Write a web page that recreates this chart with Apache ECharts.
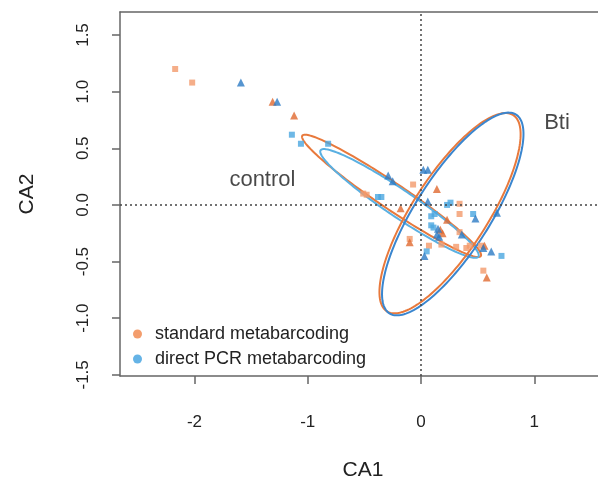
<!DOCTYPE html>
<html><head><meta charset="utf-8">
<script src="https://cdn.jsdelivr.net/npm/echarts@6/dist/echarts.min.js"></script>
<style>html,body{margin:0;padding:0;background:#fff}#c{width:598px;height:487px}</style>
</head><body><div id="c"></div>
<script>
// ---- data ----
const xTicks = [-2, -1, 0, 1];
const yTicks = [-1.5, -1.0, -0.5, 0.0, 0.5, 1.0, 1.5];
const seriesNames = ['standard metabarcoding', 'direct PCR metabarcoding'];

const stdSquares = [[-2.17,1.20],[-2.02,1.08],[-0.51,0.10],[-0.48,0.09],[-0.07,0.18],[0.34,0.01],[0.34,-0.08],[0.34,-0.24],[-0.10,-0.30],[0.07,-0.36],[0.18,-0.35],[0.31,-0.37],[0.40,-0.38],[0.43,-0.36],[0.53,-0.36],[0.55,-0.58]];
const stdTriangles = [[-1.31,0.91],[-1.12,0.79],[0.14,0.14],[-0.18,-0.03],[0.23,-0.13],[0.17,-0.22],[0.19,-0.25],[-0.10,-0.33],[0.56,-0.36],[0.58,-0.64]];
const dirSquares = [[-1.14,0.62],[-1.06,0.54],[-0.82,0.54],[-0.38,0.07],[-0.35,0.07],[0.23,0.00],[0.26,0.02],[0.09,-0.10],[0.12,-0.08],[0.46,-0.08],[0.09,-0.18],[0.11,-0.20],[0.71,-0.45],[0.05,-0.41]];
const dirTriangles = [[-1.59,1.08],[-1.27,0.91],[-0.29,0.26],[-0.25,0.21],[0.02,0.31],[0.06,0.31],[0.06,0.03],[0.48,-0.12],[0.67,-0.07],[0.15,-0.21],[0.14,-0.26],[0.16,-0.28],[0.36,-0.26],[0.55,-0.38],[0.62,-0.41],[0.03,-0.45]];

// ellipses: control std, control direct, Bti std, Bti direct
const ellCx = [-0.26, -0.19, 0.256, 0.28];
const ellCy = [0.08, 0.013, -0.073, -0.08];
const ellA = [0.95, 0.84, 1.03, 1.04];
const ellB = [0.115, 0.12, 0.33, 0.33];
const ellAngle = [-34, -34, 57.2, 57.5];

const annotText = ['control', 'Bti'];
const annotX = [-1.40, 1.20];
const annotY = [0.22, 0.72];

// ---- styles ----
const cOrangeSq = '#f39a6b', cOrangeTri = '#e0692f', cBlueSq = '#4aa6e0', cBlueTri = '#2c7bc4';
const ellColors = ['#e8793c', '#5ab0e2', '#e8793c', '#3a86cf'];
const FONT = '"Liberation Sans", Arial, sans-serif';

const ellData = ellCx.map((c, i) => [c, ellCy[i], ellA[i], ellB[i], ellAngle[i], i]);

function renderEllipse(params, api) {
  const cx = api.value(0), cy = api.value(1), a = api.value(2), b = api.value(3);
  const th = api.value(4) * Math.PI / 180, idx = api.value(5);
  const pts = [];
  for (let k = 0; k < 180; k++) {
    const t = k * 2 * Math.PI / 180;
    const ux = a * Math.cos(t), uy = b * Math.sin(t);
    pts.push(api.coord([cx + ux * Math.cos(th) - uy * Math.sin(th), cy + ux * Math.sin(th) + uy * Math.cos(th)]));
  }
  return { type: 'polygon', shape: { points: pts }, style: { fill: 'none', stroke: ellColors[idx], lineWidth: 2 } };
}

const chart = echarts.init(document.getElementById('c'));
chart.setOption({
  animation: false,
  backgroundColor: '#fff',
  textStyle: { fontFamily: FONT },
  grid: { left: 120, top: 12, right: 0, bottom: 111 },
  legend: {
    left: 128, top: 320, orient: 'vertical', itemGap: 7,
    itemWidth: 9, itemHeight: 9,
    textStyle: { fontSize: 18, color: '#222', fontFamily: FONT, padding: [0, 0, 0, 8], lineHeight: 18 },
    data: [
      { name: seriesNames[0], icon: 'circle', itemStyle: { color: '#f08549' } },
      { name: seriesNames[1], icon: 'circle', itemStyle: { color: '#3fa0e0' } }
    ]
  },
  xAxis: [{
    type: 'value', min: -2.657, max: 1.562, position: 'bottom',
    name: 'CA1', nameLocation: 'middle', nameGap: 84,
    nameTextStyle: { fontSize: 21, color: '#222', fontFamily: FONT, padding: [0, 0, 0, 8] },
    splitLine: { show: false },
    axisLine: { show: true, onZero: false, lineStyle: { color: '#666', width: 1.5 } },
    axisTick: { show: true, length: 8, customValues: xTicks, lineStyle: { color: '#666', width: 1.5 } },
    axisLabel: { customValues: xTicks, margin: 38, fontSize: 17, color: '#222', fontFamily: FONT }
  }, {
    type: 'value', min: -2.657, max: 1.562, position: 'top',
    splitLine: { show: false },
    axisLine: { show: true, onZero: false, lineStyle: { color: '#666', width: 1.5 } },
    axisTick: { show: false }, axisLabel: { show: false }
  }],
  yAxis: {
    type: 'value', min: -1.51, max: 1.703,
    name: 'CA2', nameLocation: 'middle', nameGap: 82,
    nameTextStyle: { fontSize: 21, color: '#222', fontFamily: FONT },
    splitLine: { show: false },
    axisLine: { show: true, onZero: false, lineStyle: { color: '#666', width: 1.5 } },
    axisTick: { show: true, length: 8, customValues: yTicks, lineStyle: { color: '#666', width: 1.5 } },
    axisLabel: { customValues: yTicks, rotate: 90, margin: 28, fontSize: 17, color: '#222', fontFamily: FONT,
      formatter: v => v.toFixed(1) }
  },
  series: [
    {
      type: 'custom', name: 'ellipses', renderItem: renderEllipse, data: ellData, silent: true, z: 3,
      encode: { x: 0, y: 1 },
      markLine: {
        silent: true, symbol: 'none', label: { show: false },
        lineStyle: { type: [2, 3], color: '#444', width: 1.5 },
        data: [{ xAxis: 0 }, { yAxis: 0 }]
      }
    },
    { type: 'scatter', name: seriesNames[0], symbol: 'rect', symbolSize: 6, data: stdSquares, itemStyle: { color: cOrangeSq }, z: 4 },
    { type: 'scatter', name: seriesNames[0], symbol: 'triangle', symbolSize: 8, data: stdTriangles, itemStyle: { color: cOrangeTri }, z: 4 },
    { type: 'scatter', name: seriesNames[1], symbol: 'rect', symbolSize: 6, data: dirSquares, itemStyle: { color: cBlueSq }, z: 4 },
    { type: 'scatter', name: seriesNames[1], symbol: 'triangle', symbolSize: 8, data: dirTriangles, itemStyle: { color: cBlueTri }, z: 4 },
    {
      type: 'scatter', name: 'annotations', symbolSize: 0, silent: true,
      data: annotText.map((t, i) => ({ name: t, value: [annotX[i], annotY[i]] })),
      label: { show: true, position: 'inside', formatter: p => p.name, fontSize: 22, color: '#1a1a1a', fontFamily: FONT }
    }
  ]
});
</script></body></html>
